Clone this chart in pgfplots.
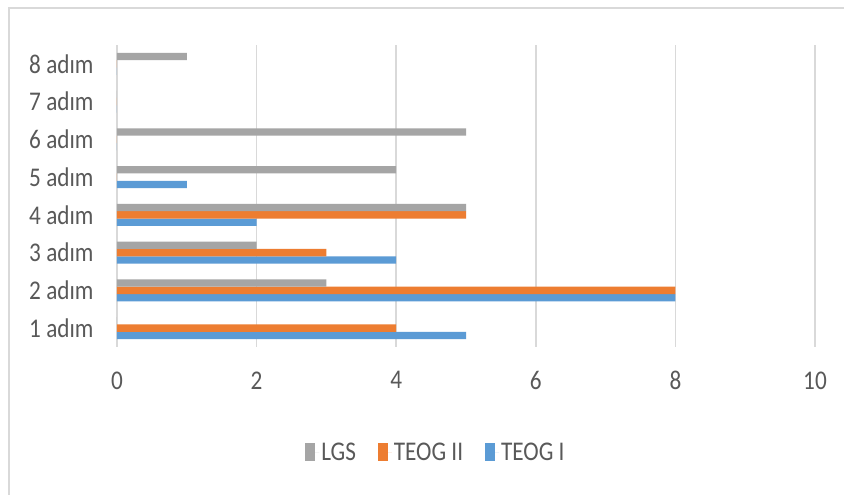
\documentclass[border=0pt]{standalone}
\usepackage{fontspec}
\setmainfont{Carlito}[FakeStretch=0.86]
\usepackage{pgfplots}
\pgfplotsset{compat=1.18}
\definecolor{cblue}{HTML}{5B9BD5}
\definecolor{corange}{HTML}{ED7D31}
\definecolor{cgray}{HTML}{A5A5A5}
\definecolor{ctext}{HTML}{595959}
\definecolor{cgrid}{HTML}{D9D9D9}
\begin{document}
\begin{tikzpicture}[x=1pt,y=1pt]
\path[use as bounding box] (0,0) rectangle (844,495);
\fill[white] (0,0) rectangle (844,495);
\draw[cgrid, line width=2.5pt] (9,-5) -- (9,487) -- (850,487);
\begin{axis}[
  at={(117pt,148pt)}, anchor=south west,
  scale only axis, width=698pt, height=302pt,
  xbar, bar width=7.3pt,
  xmin=0, xmax=10, xtick={0,2,4,6,8,10},
  ymin=0.5, ymax=8.5, ytick={1,...,8},
  yticklabels={1 adım,2 adım,3 adım,4 adım,5 adım,6 adım,7 adım,8 adım},
  axis line style={draw=none},
  major tick length=0pt,
  xmajorgrids, grid style={cgrid, line width=1.5pt},
  /pgf/number format/assume math mode=true,
  tick label style={font=\fontsize{27}{32}\selectfont, text=ctext},
  xticklabel style={yshift=-21pt},
  yticklabel style={xshift=-20pt},
  legend columns=3,
  reverse legend,
  legend style={at={(0.457,-0.348)}, anchor=center, draw=none,
    font=\fontsize{27}{32}\selectfont, text=ctext,
    /tikz/every even column/.append style={column sep=20pt}},
  legend image code/.code={\fill[#1] (0pt,-9pt) rectangle (10pt,9pt); \path (0pt,0pt) -- (14pt,0pt);},
]
\addplot[fill=cblue, draw=none, bar shift=-7.3pt] coordinates {(5,1) (8,2) (4,3) (2,4) (1,5) (0,6) (0,7) (0,8)};
\addplot[fill=corange, draw=none, bar shift=0pt] coordinates {(4,1) (8,2) (3,3) (5,4) (0,5) (0,6) (0,7) (0,8)};
\addplot[fill=cgray, draw=none, bar shift=7.3pt] coordinates {(0,1) (3,2) (2,3) (5,4) (4,5) (5,6) (0,7) (1,8)};
\legend{TEOG I, TEOG II, LGS}
\end{axis}
\end{tikzpicture}
\end{document}
